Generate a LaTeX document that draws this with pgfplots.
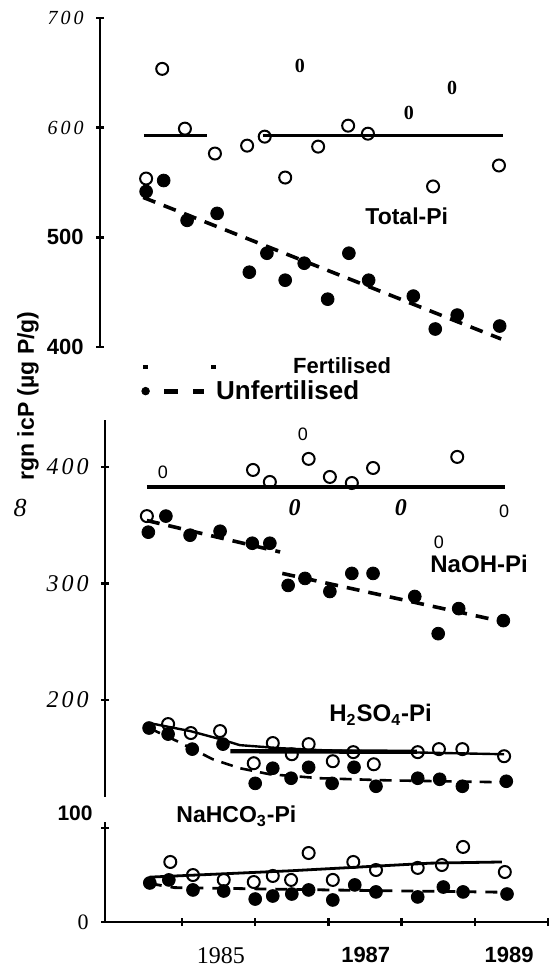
\documentclass[border=0pt]{standalone}
\usepackage{pgfplots}
\pgfplotsset{compat=1.18}
\usepackage{fontspec}
\setmainfont{Liberation Serif}
\newfontfamily\hv{Liberation Sans}
\newcommand{\bsf}[1]{\hv\bfseries\fontsize{#1}{#1}\selectfont}
\newcommand{\isf}[1]{\rmfamily\itshape\mdseries\fontsize{#1}{#1}\selectfont}
\newcommand{\rsf}[1]{\rmfamily\upshape\mdseries\fontsize{#1}{#1}\selectfont}
\newcommand{\spc}[3]{#1\kern1.5pt#2\kern1.5pt#3}
\begin{document}
\begin{tikzpicture}
\useasboundingbox (0,0) rectangle (280pt,484pt);
\pgfplotsset{
 base/.style={scale only axis, anchor=south west, clip=false,
   tick style={line width=1.2pt, black}, tick align=inside, major tick length=4pt,
   yticklabel style={anchor=east, inner sep=0pt, xshift=-6pt}},
 noarrow/.style={axis line style={-, line width=1.4pt},
   every outer x axis line/.append style={-}, every outer y axis line/.append style={-},
   every inner x axis line/.append style={-}, every inner y axis line/.append style={-},
   x axis line style={-}, y axis line style={-}},
 fert/.style={only marks, mark=o, mark size=3pt, mark options={line width=1pt, solid}},
 unf/.style={only marks, mark=*, mark size=3.2pt},
 zero/.style={only marks, mark=text, text mark={0}, text mark as node=true,
   text mark style={font=#1, inner sep=0pt, anchor=center}},
}
% ---------------- Total-Pi ----------------
\begin{axis}[base, at={(50pt,310.5pt)}, width=224pt, height=164.5pt,
  xmin=1983.88, xmax=1990, ymin=400, ymax=700,
  axis y line=left, axis x line=none, noarrow,
  ytick={400,500,600,700},
  yticklabels={{\mbox{\bsf{11}400}},{\mbox{\bsf{11}500}},{\mbox{\isf{10}\spc600}},{\mbox{\isf{10}\spc700}}},
  legend style={draw=none, fill=none, at={(axis description cs:0.0915,-0.03)}, anchor=north west,
    inner sep=0pt, row sep=2pt, nodes={inner sep=0pt}},
  legend cell align=left]
\addlegendimage{legend image code/.code={
  \path[draw=none] (-2pt,0pt) -- (35pt,0pt);
  \fill[black] (-1.1pt,-0.8pt) rectangle (1.1pt,0.8pt);
  \fill[black] (32.9pt,-0.8pt) rectangle (35.1pt,0.8pt);}}
\addlegendentry{\hspace*{38.5pt}{\bsf{11}Fertilised}}
\addlegendimage{legend image code/.code={
  \path[draw=none] (-2pt,0pt) -- (35pt,0pt);
  \fill[black] (0pt,0pt) circle (1.9pt);
  \fill[black] (9.5pt,-1.1pt) rectangle (16pt,1.1pt);
  \fill[black] (24pt,-1.1pt) rectangle (29pt,1.1pt);}}
\addlegendentry{\bsf{13}Unfertilised}
\addplot[fert, forget plot] coordinates {
 (1984.51,553.6) (1984.73,653.6) (1985.04,599.1) (1985.45,576.4) (1985.89,583.6)
 (1986.13,591.8) (1986.41,554.5) (1986.86,582.7) (1987.27,601.8) (1987.54,594.5)
 (1988.43,546.4) (1989.33,565.5)};
\addplot[zero={\rmfamily\bfseries\fontsize{10}{10}\selectfont}, forget plot] coordinates {
 (1986.61,656.4) (1988.10,613.6) (1988.69,636.4)};
\addplot[unf, forget plot] coordinates {
 (1984.51,541.8) (1984.75,551.8) (1985.07,515.5) (1985.48,521.8) (1985.92,468.2)
 (1986.16,485.5) (1986.41,460.9) (1986.67,476.4) (1986.99,443.6) (1987.28,485.5)
 (1987.55,460.9) (1988.16,446.4) (1988.46,416.4) (1988.76,429.1) (1989.34,419.1)};
\addplot[line width=1.6pt, forget plot] coordinates {(1984.48,592.7) (1985.34,592.7)};
\addplot[line width=1.6pt, forget plot] coordinates {(1986.10,592.7) (1989.39,592.7)};
\addplot[line width=1.8pt, dash pattern=on 6.5pt off 4.5pt, forget plot] coordinates {(1984.47,536.4) (1989.36,407.3)};
\end{axis}
% ---------------- NaOH-Pi and H2SO4-Pi ----------------
\begin{axis}[base, at={(52.5pt,85.5pt)}, width=221.5pt, height=188.5pt,
  xmin=1983.948, xmax=1990, ymin=116.7, ymax=440.3,
  axis y line=left, axis x line=none, noarrow,
  ytick={200,300,400},
  yticklabels={{\mbox{\isf{12}\spc200}},{\mbox{\isf{12}\spc300}},{\mbox{\isf{12}\spc400}}}]
% NaOH fertilised
\addplot[line width=1.8pt] coordinates {(1984.52,382.8) (1989.41,382.8)};
\addplot[fert] coordinates {
 (1984.52,357.8) (1985.97,397.4) (1986.20,387.1) (1986.73,406.9) (1987.02,391.4)
 (1987.32,386.2) (1987.61,399.1) (1988.76,408.6)};
\addplot[zero={\hv\fontsize{9}{9}\selectfont}] coordinates {
 (1984.74,395.7) (1986.65,427.6) (1989.40,362.1) (1988.51,335.3)};
\addplot[zero={\rmfamily\bfseries\itshape\fontsize{12}{12}\selectfont}] coordinates {
 (1986.54,364.7) (1987.99,364.7)};
% NaOH unfertilised
\addplot[unf] coordinates {
 (1984.54,344.0) (1984.78,357.8) (1985.11,341.4) (1985.52,344.8) (1985.96,334.5)
 (1986.20,334.5) (1986.45,298.3) (1986.68,304.3) (1987.02,293.1) (1987.32,308.6)
 (1987.61,308.6) (1988.18,288.8) (1988.50,256.9) (1988.78,278.4) (1989.39,268.1)};
\addplot[line width=1.8pt, dash pattern=on 6.5pt off 4.5pt] coordinates {(1984.52,354.0) (1986.34,327.0)};
\addplot[line width=1.8pt, dash pattern=on 6.5pt off 4.5pt] coordinates {(1986.37,308.6) (1989.44,266.4)};
% H2SO4 fertilised
\addplot[fert] coordinates {
 (1984.81,179.3) (1985.12,171.6) (1985.52,173.3) (1985.98,145.7) (1986.24,163.0)
 (1986.50,153.4) (1986.73,162.1) (1987.06,147.4) (1987.34,155.2) (1987.62,144.8)
 (1988.22,155.2) (1988.51,157.8) (1988.83,157.8) (1989.40,151.7)};
\addplot[line width=1.2pt] coordinates {
 (1984.55,180.2) (1985.11,173.3) (1985.52,166.4) (1985.79,161.2) (1986.34,158.6)
 (1986.89,156.9) (1987.98,155.2) (1989.40,153.4)};
\addplot[line width=2.2pt] coordinates {(1985.66,156.0) (1988.21,155.5)};
% H2SO4 unfertilised
\addplot[unf] coordinates {
 (1984.55,175.9) (1984.81,170.7) (1985.14,157.8) (1985.56,162.1) (1986.00,128.4)
 (1986.24,141.4) (1986.49,132.8) (1986.73,142.2) (1987.05,128.4) (1987.35,142.2)
 (1987.65,125.9) (1988.22,132.8) (1988.52,131.9) (1988.83,125.9) (1989.43,130.2)};
\addplot[line width=1.3pt, dash pattern=on 6pt off 4pt] coordinates {
 (1984.55,175.9) (1984.93,164.7) (1985.42,149.1) (1985.79,141.4) (1986.20,136.2)
 (1986.89,132.8) (1987.80,131.0) (1989.43,129.3)};
\end{axis}
% ---------------- NaHCO3-Pi ----------------
\begin{axis}[base, at={(52.5pt,23pt)}, width=221.5pt, height=50pt,
  xmin=1983.948, xmax=1990, ymin=0, ymax=85.8,
  axis y line=left, axis x line=bottom, noarrow,
  ytick={0}, yticklabels={{\mbox{\rsf{11}0}}},
  extra y ticks={80.7}, extra y tick labels={},
  extra y tick style={tick align=center, major tick length=4pt},
  xtick={1985,1986,1987,1988,1989,1990}, xticklabels={,,,,,},
  extra x ticks={1985.53,1987.51,1989.47},
  extra x tick labels={{\mbox{\rsf{12}1985}},{\mbox{\bsf{11}1987}},{\mbox{\bsf{11}1989}}},
  extra x tick style={major tick length=0pt, xticklabel style={yshift=-9pt}}]
\addplot[fert] coordinates {
 (1984.84,51.5) (1985.15,40.3) (1985.57,36.1) (1985.98,34.3) (1986.24,39.5)
 (1986.49,36.1) (1986.73,59.2) (1987.06,36.1) (1987.34,51.5) (1987.65,44.6)
 (1988.22,46.4) (1988.55,48.9) (1988.84,64.4) (1989.41,42.9)};
\addplot[line width=1.4pt] coordinates {(1984.56,38.5) (1986.5,44.0) (1988.4,50.5) (1989.37,51.5)};
\addplot[unf] coordinates {
 (1984.56,33.5) (1984.82,36.1) (1985.15,27.5) (1985.57,26.6) (1986.00,19.7)
 (1986.24,22.3) (1986.50,24.0) (1986.73,27.5) (1987.06,18.9) (1987.36,31.8)
 (1987.65,25.8) (1988.22,21.5) (1988.57,30.0) (1988.84,25.8) (1989.44,24.0)};
\addplot[line width=1.4pt, dash pattern=on 6pt off 4.5pt] coordinates {(1984.56,33.0) (1984.9,29.5) (1987.0,27.5) (1989.44,25.5)};
\end{axis}
% ---------------- texts ----------------
\node[anchor=base west, inner sep=0pt, font={\bsf{11.5}}] at (182.5pt,371.5pt) {Total-Pi};
\node[anchor=base west, inner sep=0pt, font={\bsf{12}}] at (215pt,197.5pt) {NaOH-Pi};
\node[anchor=base west, inner sep=0pt, font={\bsf{12}}] at (164.5pt,123pt) {H\textsubscript{2}SO\textsubscript{4}-Pi};
\node[anchor=base west, inner sep=0pt, font={\bsf{11.5}}] at (88pt,72.5pt) {NaHCO\textsubscript{3}-Pi};
\node[anchor=east, inner sep=0pt, font={\bsf{10.5}}] at (46.5pt,77.5pt) {100};
\node[inner sep=0pt, font={\isf{13}}] at (10pt,230pt) {8};
\node[rotate=90, inner sep=0pt, font={\bsf{11.5}}] at (14pt,286pt) {rgn icP (µg P/g)};
\end{tikzpicture}
\end{document}
